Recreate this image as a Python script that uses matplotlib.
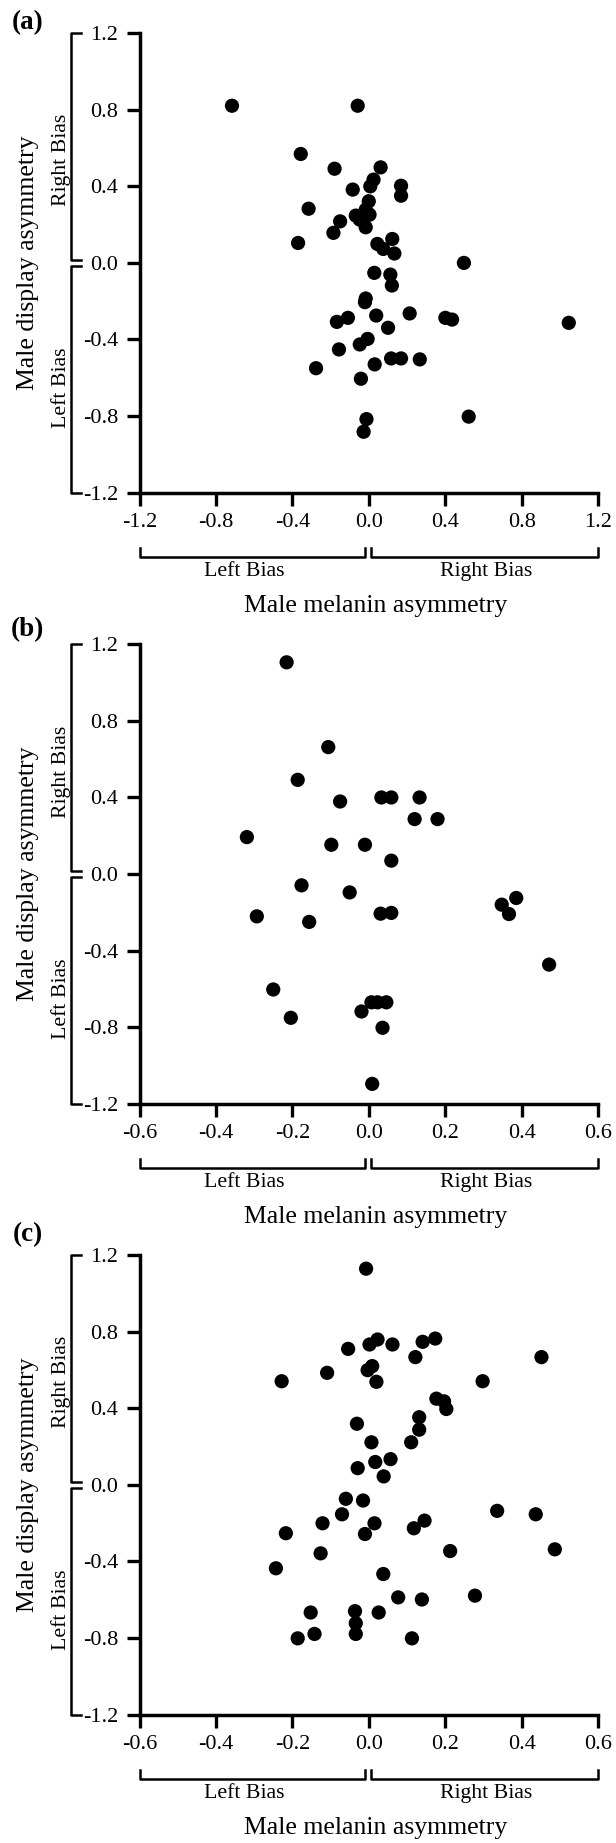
import numpy as np
import matplotlib
matplotlib.use("Agg")
import matplotlib.pyplot as plt
from matplotlib.ticker import FormatStrFormatter

plt.rcParams["font.family"] = ["Liberation Serif", "DejaVu Serif"]

# panel (a)
a_x = [-0.716, -0.058, -0.356, -0.179, 0.062, 0.025, 0.008, 0.169, 0.169, -0.084,
       -0.315, 0.000, -0.016, -0.068, 0.004, -0.047, -0.016, -0.150, -0.185, -0.370,
       0.045, 0.076, 0.123, 0.134, 0.498, 0.029, 0.113, 0.121, -0.016, -0.020,
       -0.167, -0.109, 0.039, 0.214, 0.401, 0.436, 1.047, 0.101, -0.006, -0.047,
       -0.156, 0.117, 0.169, 0.267, 0.031, -0.276, -0.041, -0.012, -0.027, 0.523]
a_y = [0.821, 0.821, 0.569, 0.492, 0.499, 0.435, 0.400, 0.403, 0.351, 0.383,
       0.283, 0.322, 0.278, 0.247, 0.252, 0.226, 0.186, 0.217, 0.157, 0.104,
       0.099, 0.073, 0.125, 0.049, 0.000, -0.052, -0.061, -0.118, -0.186, -0.205,
       -0.308, -0.287, -0.275, -0.264, -0.287, -0.296, -0.313, -0.339, -0.397, -0.426,
       -0.452, -0.499, -0.499, -0.504, -0.530, -0.550, -0.605, -0.816, -0.882, -0.803]

# panel (b)
b_x = [-0.215, -0.106, -0.186, -0.075, 0.033, 0.059, 0.133, 0.120, 0.180, -0.319,
       -0.098, -0.010, 0.059, -0.176, -0.050, -0.293, -0.156, 0.031, 0.059, 0.348,
       0.386, 0.367, 0.472, -0.250, -0.204, -0.019, 0.007, 0.023, 0.046, 0.036, 0.009]
b_y = [1.106, 0.663, 0.492, 0.379, 0.400, 0.400, 0.400, 0.287, 0.287, 0.193,
       0.153, 0.153, 0.070, -0.059, -0.096, -0.221, -0.250, -0.207, -0.203, -0.160,
       -0.125, -0.209, -0.473, -0.603, -0.751, -0.718, -0.670, -0.670, -0.670, -0.803, -1.096]

# panel (c)
c_x = [-0.007, -0.054, 0.002, 0.023, 0.062, 0.141, 0.174, 0.122, 0.452, -0.228,
       -0.109, -0.003, 0.009, 0.020, 0.298, 0.177, 0.197, 0.203, 0.132, 0.132,
       -0.031, 0.007, 0.111, 0.017, 0.057, -0.029, 0.039, -0.060, -0.015, -0.070,
       -0.121, 0.015, -0.010, -0.217, 0.118, 0.146, 0.336, 0.437, 0.487, 0.213,
       -0.126, -0.243, 0.038, 0.077, 0.139, 0.278, -0.152, -0.036, 0.026, -0.034,
       -0.034, -0.186, -0.142, 0.113]
c_y = [1.129, 0.710, 0.733, 0.759, 0.733, 0.747, 0.764, 0.667, 0.667, 0.541,
       0.585, 0.599, 0.620, 0.538, 0.541, 0.450, 0.436, 0.396, 0.353, 0.288,
       0.319, 0.222, 0.222, 0.119, 0.134, 0.087, 0.044, -0.073, -0.082, -0.154,
       -0.201, -0.201, -0.257, -0.253, -0.227, -0.187, -0.136, -0.154, -0.337, -0.346,
       -0.358, -0.436, -0.466, -0.588, -0.599, -0.579, -0.667, -0.660, -0.667, -0.723,
       -0.779, -0.802, -0.779, -0.802]

panel_labels = ["(a)", "(b)", "(c)"]
x_limits = [1.2, 0.6, 0.6]
x_steps = [0.4, 0.2, 0.2]
y_ticks = np.round(np.arange(-1.2, 1.21, 0.4), 1)
xlabel = "Male melanin asymmetry"
ylabel = "Male display asymmetry"

fig = plt.figure(figsize=(6.16, 18.43), dpi=100)

# axes positions in figure fraction
bottoms = [0.7327, 0.4011, 0.0697]
label_y = [1.023, 1.031, 1.045]

datasets = [(a_x, a_y), (b_x, b_y), (c_x, c_y)]

for i, (xs, ys) in enumerate(datasets):
    ax = fig.add_axes([0.2265, bottoms[i], 0.7443, 0.2493])
    lim = x_limits[i]
    ax.scatter(xs, ys, s=105, color="black", edgecolors="none", clip_on=False, zorder=3)
    ax.set_xlim(-lim, lim)
    ax.set_ylim(-1.2, 1.2)
    ax.set_xticks(np.round(np.arange(-lim, lim + 1e-6, x_steps[i]), 1))
    ax.set_yticks(y_ticks)
    ax.xaxis.set_major_formatter(FormatStrFormatter("%.1f"))
    ax.yaxis.set_major_formatter(FormatStrFormatter("%.1f"))
    for s in ["top", "right"]:
        ax.spines[s].set_visible(False)
    for s in ["left", "bottom"]:
        ax.spines[s].set_linewidth(2.5)
    ax.tick_params(direction="out", length=9.5, width=2.4, labelsize=16, pad=6)
    ax.tick_params(axis="x", pad=5)

    # left-side brackets
    ty = ax.get_yaxis_transform()
    bx0, bx1 = -0.1505, -0.1287
    ax.plot([bx1, bx0, bx0, bx1], [1.2, 1.2, 0.015, 0.015], color="black", lw=1.8,
            transform=ty, clip_on=False)
    ax.plot([bx1, bx0, bx0, bx1], [-0.015, -0.015, -1.2, -1.2], color="black", lw=1.8,
            transform=ty, clip_on=False)
    ax.text(-0.171, 0.536, "Right Bias", rotation=90, ha="center", va="center",
            fontsize=15.7, transform=ty)
    ax.text(-0.171, -0.654, "Left Bias", rotation=90, ha="center", va="center",
            fontsize=15.7, transform=ty)

    # bottom brackets
    by0, by1 = -0.1393, -0.1204
    ax.plot([0.0, 0.0, 0.4927, 0.4927], [by1, by0, by0, by1], color="black", lw=1.8,
            transform=ax.transAxes, clip_on=False)
    ax.plot([0.5056, 0.5056, 1.0, 1.0], [by1, by0, by0, by1], color="black", lw=1.8,
            transform=ax.transAxes, clip_on=False)
    ax.text(0.229, -0.172, "Left Bias", ha="center", va="center", fontsize=15.7,
            transform=ax.transAxes)
    ax.text(0.756, -0.172, "Right Bias", ha="center", va="center", fontsize=15.7,
            transform=ax.transAxes)

    ax.text(0.514, -0.246, xlabel, ha="center", va="center", fontsize=18.5,
            transform=ax.transAxes)
    ax.text(-0.2443, 0.5, ylabel, rotation=90, ha="center", va="center", fontsize=18.5,
            transform=ax.transAxes)
    ax.text(-0.2443, label_y[i], panel_labels[i], ha="center", va="center",
            fontsize=19.5, fontweight="bold", transform=ax.transAxes)

fig.savefig("out.png", dpi=100)
